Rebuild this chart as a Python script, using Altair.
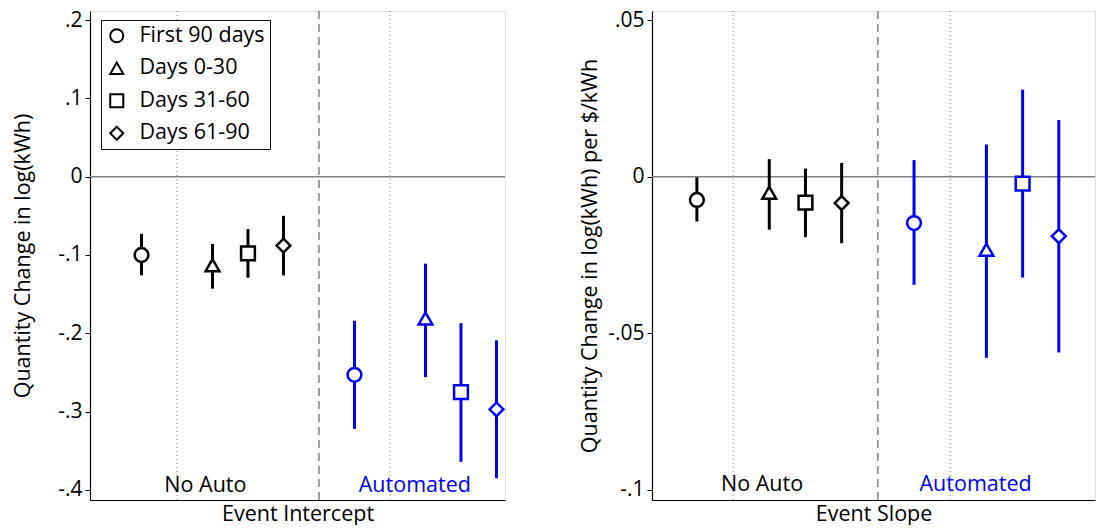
import altair as alt
import pandas as pd

periods = ["First 90 days", "Days 0-30", "Days 31-60", "Days 61-90"]
groups = ["No Auto", "Automated"]
shapes = ["circle", "triangle-up", "square", "diamond"]
xpos = [-1, 1, 2, 3, 5, 7, 8, 9]
row_group = ["No Auto"] * 4 + ["Automated"] * 4
row_period = periods + periods

intercept_est = [-0.100, -0.113, -0.098, -0.088, -0.253, -0.181, -0.275, -0.297]
intercept_lo = [-0.126, -0.143, -0.129, -0.126, -0.322, -0.256, -0.364, -0.385]
intercept_hi = [-0.073, -0.086, -0.067, -0.050, -0.184, -0.111, -0.187, -0.209]

slope_est = [-0.0074, -0.0051, -0.0083, -0.0084, -0.0148, -0.0233, -0.0022, -0.0190]
slope_lo = [-0.0143, -0.0169, -0.0193, -0.0212, -0.0345, -0.0578, -0.0322, -0.0561]
slope_hi = [-0.0002, 0.0056, 0.0026, 0.0044, 0.0053, 0.0103, 0.0278, 0.0181]

group_label_x = [0.8, 6.7]
FONT = "Open Sans"
BLUE = "#0000ff"
FS = 21.5


def panel(est, lo, hi, ydom, yticks, ytitle, xtitle, xdom, label_y, width, legend, tpad):
    df = pd.DataFrame({"x": xpos, "est": est, "lo": lo, "hi": hi,
                       "group": row_group, "period": row_period})
    xs = alt.Scale(domain=xdom, nice=False, zero=False)
    ys = alt.Scale(domain=ydom, nice=False, zero=False)
    xaxis = alt.Axis(title=xtitle, labels=False, ticks=False, grid=False,
                     domainColor="black", domainWidth=1.2, titleFontSize=FS,
                     titleFontWeight="normal", titleColor="black", titlePadding=3,
                     titleFont=FONT)
    yaxis = alt.Axis(title=ytitle, values=yticks, grid=False, tickSize=5,
                     tickColor="black", domainColor="black", domainWidth=1.2,
                     labelFontSize=21, labelColor="black", labelFont=FONT,
                     labelPadding=3, titleFontSize=FS, titleFontWeight="normal",
                     titleColor="black", titleFont=FONT, titlePadding=tpad,
                     labelExpr="datum.value == 0 ? '0' : replace(replace(format(datum.value, '.2~f'), '0.', '.'), '\u2212', '-')")
    color = alt.Color("group:N", scale=alt.Scale(domain=groups, range=["black", BLUE]), legend=None)

    zero = alt.Chart(pd.DataFrame({"y": [0]})).mark_rule(color="#808080", strokeWidth=1.5).encode(
        y=alt.Y("y:Q", scale=ys, axis=yaxis))
    dashed = alt.Chart(pd.DataFrame({"x": [4]})).mark_rule(
        color="#808080", strokeWidth=1.5, strokeDash=[8, 5]).encode(
        x=alt.X("x:Q", scale=xs, axis=xaxis))
    dotted = alt.Chart(pd.DataFrame({"x": [0, 6]})).mark_rule(
        color="#808080", strokeWidth=1, strokeDash=[1, 3]).encode(
        x=alt.X("x:Q", scale=xs, axis=xaxis))
    bars = alt.Chart(df).mark_rule(strokeWidth=3).encode(
        x=alt.X("x:Q", scale=xs, axis=xaxis),
        y=alt.Y("lo:Q", scale=ys, axis=yaxis), y2="hi:Q", color=color)
    if legend:
        leg = alt.Legend(title=None, orient="none", legendX=11, legendY=9,
                         strokeColor="#111111", fillColor="white", padding=5,
                         labelFontSize=FS, labelFont=FONT, labelColor="black",
                         symbolSize=170, symbolStrokeWidth=2, symbolOpacity=1,
                         rowPadding=9.5, labelOffset=12)
    else:
        leg = None
    shape_enc = alt.Shape("period:N", scale=alt.Scale(domain=periods, range=shapes), legend=leg)

    def pts(grp, col):
        return alt.Chart(df).transform_filter(alt.datum.group == grp).mark_point(
            filled=False, fill="white", fillOpacity=1, color=col, stroke=col,
            strokeWidth=2.5, size=190, opacity=1).encode(
            x=alt.X("x:Q", scale=xs, axis=xaxis),
            y=alt.Y("est:Q", scale=ys, axis=yaxis),
            shape=shape_enc)

    lab = alt.Chart(pd.DataFrame({"x": group_label_x, "y": [label_y, label_y], "group": groups})).mark_text(
        fontSize=FS, font=FONT, baseline="middle", align="center").encode(
        x=alt.X("x:Q", scale=xs, axis=xaxis),
        y=alt.Y("y:Q", scale=ys, axis=yaxis),
        text="group:N", color=color)
    return alt.layer(zero, dotted, dashed, bars, pts(groups[0], "black"), pts(groups[1], BLUE),
                     lab).properties(width=width, height=489)


left = panel(intercept_est, intercept_lo, intercept_hi, [-0.4128, 0.2115],
             [0.2, 0.1, 0, -0.1, -0.2, -0.3, -0.4], "Quantity Change in log(kWh)",
             "Event Intercept", [-2.45, 9.24], -0.3946, 415, True, 23)
right = panel(slope_est, slope_lo, slope_hi, [-0.1032, 0.0529],
              [0.05, 0, -0.05, -0.1], "Quantity Change in log(kWh) per $/kWh",
              "Event Slope", [-2.24, 10.0], -0.0984, 443, False, 6)

chart = alt.hconcat(left, right, spacing=70).resolve_scale(
    x="independent", y="independent", shape="independent",
    color="independent").resolve_legend(shape="independent").properties(
    padding={"left": 12, "top": 8, "right": 0, "bottom": 0}, background="white"
).configure_view(stroke=None).configure(font=FONT)

chart.save("out.html", embed_options={"renderer": "svg", "actions": False})
